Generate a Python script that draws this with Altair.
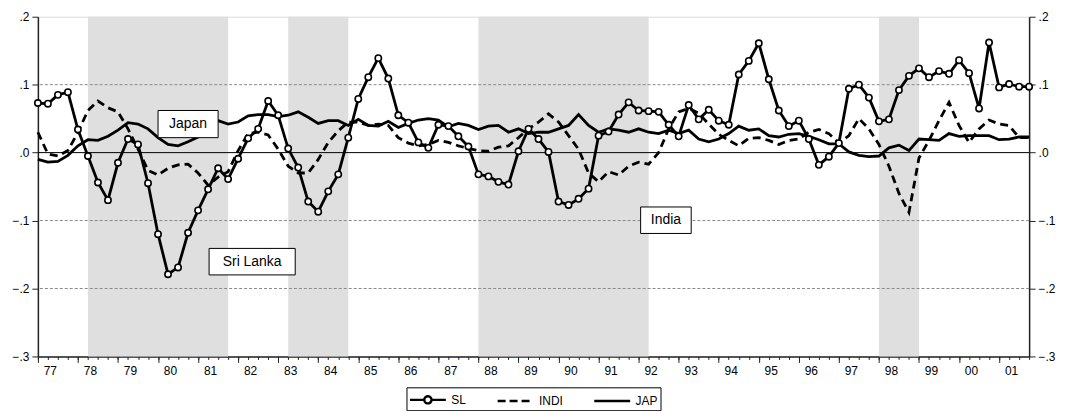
import altair as alt
import pandas as pd

FONT = "Liberation Sans"

years = list(range(1977, 2002))
year_labels = ["77", "78", "79", "80", "81", "82", "83", "84", "85", "86", "87", "88", "89",
               "90", "91", "92", "93", "94", "95", "96", "97", "98", "99", "00", "01"]
quarters = [f"{y}Q{q}" for y in years for q in range(1, 5)]

sl = [0.073, 0.072, 0.085, 0.089, 0.034, -0.005, -0.044, -0.070, -0.015, 0.020,
      0.012, -0.045, -0.120, -0.179, -0.169, -0.118, -0.085, -0.054, -0.023, -0.039,
      -0.009, 0.021, 0.035, 0.076, 0.055, 0.006, -0.022, -0.072, -0.087, -0.057,
      -0.032, 0.022, 0.079, 0.111, 0.139, 0.109, 0.055, 0.044, 0.015, 0.007,
      0.041, 0.039, 0.024, 0.009, -0.032, -0.035, -0.043, -0.047, 0.002, 0.035,
      0.020, 0.001, -0.072, -0.077, -0.068, -0.053, 0.025, 0.031, 0.056, 0.074,
      0.062, 0.061, 0.060, 0.041, 0.024, 0.070, 0.049, 0.063, 0.047, 0.041,
      0.115, 0.135, 0.161, 0.108, 0.062, 0.039, 0.047, 0.020, -0.018, -0.006,
      0.014, 0.094, 0.100, 0.081, 0.046, 0.049, 0.092, 0.113, 0.124, 0.111,
      0.120, 0.116, 0.136, 0.117, 0.065, 0.162, 0.096, 0.101, 0.097, 0.097]

indi = [0.030, -0.002, -0.005, 0.003, 0.030, 0.062, 0.076, 0.066, 0.060, 0.035,
        0.005, -0.026, -0.033, -0.023, -0.018, -0.017, -0.030, -0.048, -0.036, -0.028,
        0.003, 0.028, 0.030, 0.026, 0.005, -0.020, -0.030, -0.030, -0.010, 0.015,
        0.032, 0.045, 0.045, 0.040, 0.042, 0.040, 0.022, 0.014, 0.010, 0.012,
        0.018, 0.015, 0.010, 0.006, 0.003, 0.002, 0.008, 0.010, 0.022, 0.035,
        0.045, 0.057, 0.045, 0.025, 0.005, -0.030, -0.043, -0.028, -0.033, -0.020,
        -0.014, -0.017, 0.000, 0.035, 0.060, 0.065, 0.058, 0.042, 0.027, 0.018,
        0.010, 0.021, 0.022, 0.018, 0.012, 0.018, 0.020, 0.030, 0.034, 0.028,
        0.014, 0.025, 0.050, 0.035, 0.012, -0.020, -0.060, -0.088, -0.008, 0.018,
        0.047, 0.074, 0.040, 0.015, 0.035, 0.048, 0.042, 0.040, 0.022, 0.022]

jap = [-0.010, -0.014, -0.013, -0.004, 0.010, 0.019, 0.018, 0.024, 0.033, 0.044,
       0.042, 0.035, 0.022, 0.012, 0.010, 0.016, 0.023, 0.035, 0.047, 0.042,
       0.045, 0.054, 0.056, 0.056, 0.053, 0.055, 0.060, 0.052, 0.043, 0.047,
       0.047, 0.040, 0.049, 0.040, 0.039, 0.046, 0.037, 0.043, 0.048, 0.050,
       0.048, 0.038, 0.043, 0.040, 0.034, 0.039, 0.040, 0.030, 0.035, 0.028,
       0.030, 0.030, 0.035, 0.040, 0.056, 0.040, 0.030, 0.035, 0.033, 0.030,
       0.035, 0.030, 0.028, 0.033, 0.028, 0.033, 0.020, 0.016, 0.020, 0.028,
       0.039, 0.033, 0.035, 0.025, 0.023, 0.027, 0.028, 0.024, 0.019, 0.013,
       0.013, 0.001, -0.004, -0.006, -0.005, 0.007, 0.011, 0.003, 0.020, 0.019,
       0.018, 0.028, 0.024, 0.025, 0.025, 0.025, 0.019, 0.020, 0.023, 0.023]

band_start = ["1978Q2", "1983Q2", "1988Q1", "1998Q1"]
band_end = ["1981Q4", "1984Q4", "1992Q2", "1999Q1"]

series_names = ["SL", "INDI", "JAP"]
y_ticks = [-0.3, -0.2, -0.1, 0.0, 0.1, 0.2]
grid_vals = [-0.2, -0.1, 0.1]

ann_text = ["Japan", "Sri Lanka", "India"]
ann_t0 = [12.0, 17.1, 60.2]
ann_t1 = [18.0, 25.7, 65.25]
ann_v0 = [0.022, -0.180, -0.119]
ann_v1 = [0.062, -0.141, -0.080]

# ---- tables ----
n = len(quarters)
df = pd.DataFrame({"t": list(range(n)), "quarter": quarters,
                   "SL": sl, "INDI": indi, "JAP": jap})
bands = pd.DataFrame({"t0": [quarters.index(q) for q in band_start],
                      "t1": [quarters.index(q) for q in band_end]})
grid_df = pd.DataFrame({"v": grid_vals})
zero_df = pd.DataFrame({"v": [0.0]})
ann = pd.DataFrame({"label": ann_text, "t0": ann_t0, "t1": ann_t1, "v0": ann_v0, "v1": ann_v1})
ann["tm"] = (ann["t0"] + ann["t1"]) / 2
ann["vm"] = (ann["v0"] + ann["v1"]) / 2
leg_df = pd.DataFrame({"series": series_names, "t": [0, 0, 0], "v": [0.0, 0.0, 0.0]})

xs = alt.Scale(domain=[0, n - 1], nice=False, zero=False)
ys = alt.Scale(domain=[-0.3, 0.2], nice=False, zero=False)

yl_js = "[" + ",".join(f"'{s}'" for s in year_labels) + "]"
year_starts = [quarters.index(f"{y}Q1") for y in years]

x_axis_major = alt.Axis(
    values=year_starts, orient="bottom",
    labelExpr=f"{yl_js}[round(datum.value / 4)]",
    tickSize=6, labelOffset=12, labelPadding=3, labelOverlap=False, labelFlush=False,
    labelFontSize=12, labelColor="black", labelFont=FONT,
    domainColor="#222", domainWidth=1.5, tickColor="#222", tickWidth=1,
    grid=False, title=None,
)
x_axis_minor = alt.Axis(
    values=list(range(n)), orient="bottom", labels=False, domain=False,
    tickSize=3, tickColor="#222", tickWidth=1, grid=False, title=None,
)
ylab = "replace(format(datum.value, '.1f'), '0.', '.')"


def y_axis(orient):
    return alt.Axis(values=y_ticks, labelExpr=ylab, orient=orient, grid=False, title=None,
                    tickSize=6, labelPadding=3, labelFontSize=12, labelColor="black",
                    labelFont=FONT, domainColor="#222", domainWidth=1.5,
                    tickColor="#222", tickWidth=1)


band_layer = alt.Chart(bands).mark_rect(color="#dfdfdf").encode(
    x=alt.X("t0:Q", scale=xs, axis=x_axis_major), x2="t1:Q",
    y=alt.datum(-0.3, scale=ys, axis=None), y2=alt.datum(0.2))

grid_layer = alt.Chart(grid_df).mark_rule(color="#8a8a8a", strokeDash=[3, 2], strokeWidth=1).encode(
    y=alt.Y("v:Q", scale=ys, axis=None))

zero_layer = alt.Chart(zero_df).mark_rule(color="black", strokeWidth=1).encode(
    y=alt.Y("v:Q", scale=ys, axis=None))

jap_layer = alt.Chart(df).mark_line(color="black", strokeWidth=2.8).encode(
    x=alt.X("t:Q", scale=xs, axis=x_axis_minor),
    y=alt.Y("JAP:Q", scale=ys, axis=y_axis("right")))

indi_layer = alt.Chart(df).mark_line(color="black", strokeWidth=2.8, strokeDash=[8, 5]).encode(
    x=alt.X("t:Q", scale=xs, axis=None),
    y=alt.Y("INDI:Q", scale=ys, axis=None))

sl_layer = alt.Chart(df).mark_line(color="black", strokeWidth=2.8).encode(
    x=alt.X("t:Q", scale=xs, axis=None),
    y=alt.Y("SL:Q", scale=ys, axis=y_axis("left")))

sl_pts = alt.Chart(df).mark_point(shape="circle", filled=True, fill="white", stroke="black",
                                  strokeWidth=1.6, size=40, opacity=1).encode(
    x=alt.X("t:Q", scale=xs, axis=None),
    y=alt.Y("SL:Q", scale=ys, axis=None))

ann_box = alt.Chart(ann).mark_rect(fill="white", stroke="black", strokeWidth=1).encode(
    x=alt.X("t0:Q", scale=xs, axis=None), x2="t1:Q",
    y=alt.Y("v0:Q", scale=ys, axis=None), y2="v1:Q")

ann_txt = alt.Chart(ann).mark_text(font=FONT, fontSize=14, color="black").encode(
    x=alt.X("tm:Q", scale=xs, axis=None),
    y=alt.Y("vm:Q", scale=ys, axis=None),
    text="label:N")

paths = [
    "M-1,0H0.6M1.4,0H3M0.6,0A0.4,0.4 0 1,1 1.4,0A0.4,0.4 0 1,1 0.6,0",
    "M-1,0H3",
    "M-1,0H3",
]
leg_props = dict(title=None, orient="none", direction="horizontal", legendX=370, legendY=372,
                 symbolSize=324, labelOffset=22, columnPadding=26, padding=2,
                 strokeColor="black", fillColor="white", labelFont=FONT, labelFontSize=12,
                 labelColor="black", symbolStrokeColor="black",
                 symbolStrokeWidth=2.4, symbolOpacity=1)
legend_layer = alt.Chart(leg_df).mark_point(filled=False, color="black",
                                            strokeWidth=2.4, opacity=1).encode(
    x=alt.X("t:Q", scale=xs, axis=None),
    y=alt.Y("v:Q", scale=ys, axis=None),
    shape=alt.Shape("series:N", scale=alt.Scale(domain=series_names, range=paths),
                    legend=alt.Legend(**leg_props)),
    strokeDash=alt.StrokeDash("series:N",
                              scale=alt.Scale(domain=series_names, range=[[1, 0], [8, 4], [1, 0]]),
                              legend=alt.Legend(**leg_props)),
).transform_filter("datum.t < 0")

chart = alt.layer(
    band_layer, grid_layer, zero_layer, jap_layer, indi_layer, sl_layer, sl_pts,
    ann_box, ann_txt, legend_layer,
).resolve_axis(x="independent", y="independent").properties(
    width=995, height=341,
    autosize=alt.AutoSizeParams(type="none"),
    padding={"left": 30, "top": 8, "right": 30, "bottom": 54},
).configure_view(stroke="#555555", strokeWidth=2).configure(font=FONT)

chart.save("out.html", embed_options={"renderer": "svg", "actions": False})
